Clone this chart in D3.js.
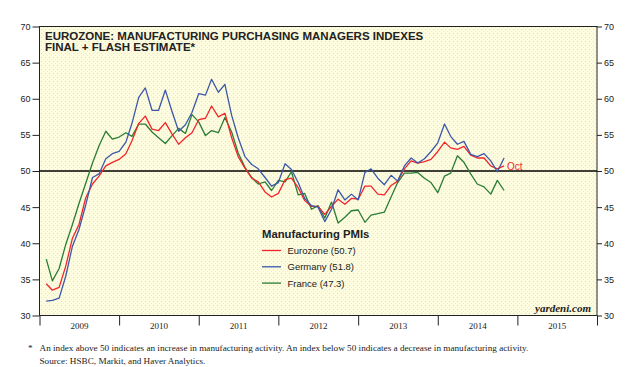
<!DOCTYPE html>
<html>
<head>
<meta charset="utf-8">
<script src="https://cdn.jsdelivr.net/npm/d3@7"></script>
<style>
  body { margin: 0; background: #fff; }
  svg { display: block; }
</style>
</head>
<body>
<svg id="chart" width="638" height="367"></svg>
<script>
// monthly PMI readings, Jan 2009 .. Oct 2014
const firstMonth = new Date(2009, 0, 1);
const eurozone = [
  34.4, 33.5, 33.9, 36.8, 40.7, 42.6, 46.3, 48.2, 49.3, 50.7, 51.2, 51.6,
  52.4, 54.2, 56.6, 57.6, 55.8, 55.6, 56.7, 55.1, 53.7, 54.6, 55.3, 57.1,
  57.3, 59.0, 57.5, 58.0, 54.6, 52.0, 50.4, 49.0, 48.5, 47.1, 46.4, 46.9,
  48.8, 49.0, 47.7, 45.9, 45.1, 45.1, 44.0, 45.1, 46.1, 45.4, 46.2, 46.1,
  47.9, 47.9, 46.8, 46.7, 48.0, 48.6, 50.3, 51.4, 51.1, 51.3, 51.6, 52.7,
  54.0, 53.2, 53.0, 53.4, 52.2, 51.8, 51.8, 50.7, 50.3, 50.7
];
const germany = [
  32.0, 32.1, 32.4, 35.4, 39.6, 41.9, 45.3, 49.1, 49.6, 51.7, 52.4, 52.7,
  54.0, 56.6, 60.2, 61.5, 58.4, 58.4, 61.2, 58.2, 55.5, 56.4, 58.1, 60.7,
  60.5, 62.7, 60.9, 62.0, 57.7, 54.6, 52.0, 50.9, 50.3, 49.1, 47.9, 48.4,
  51.0, 50.2, 48.4, 46.2, 45.2, 45.0, 43.0, 44.7, 47.4, 46.0, 46.8, 46.0,
  49.8, 50.3, 49.0, 48.1, 49.4, 48.6, 50.7, 51.8, 51.1, 51.7, 52.7, 53.9,
  56.5, 54.8, 53.7, 54.1, 52.3, 52.0, 52.4, 51.4, 49.9, 51.8
];
const france = [
  37.8, 34.8, 36.5, 39.8, 42.6, 45.5, 48.3, 51.1, 53.5, 55.5, 54.4, 54.7,
  55.3, 54.8, 56.5, 56.5, 55.4, 54.6, 53.8, 54.9, 55.9, 55.2, 57.8, 56.8,
  54.9, 55.6, 55.3, 57.4, 55.4, 52.5, 50.5, 49.1, 48.2, 48.5, 47.3, 48.7,
  48.5, 49.9, 46.7, 46.9, 44.7, 45.2, 43.5, 45.7, 42.8, 43.6, 44.5, 44.6,
  42.9, 43.9, 44.1, 44.3, 46.4, 48.4, 49.7, 49.7, 49.8, 49.0, 48.4, 47.0,
  49.3, 49.7, 52.1, 51.2, 49.6, 48.2, 47.8, 46.8, 48.7, 47.3
];
const seriesLabels = ['Eurozone (50.7)', 'Germany (51.8)', 'France (47.3)'];
const seriesColors = ['#f0262a', '#3c58aa', '#2a7d34'];
const yTicks = [30, 35, 40, 45, 50, 55, 60, 65, 70];
const years = [2009, 2010, 2011, 2012, 2013, 2014, 2015];
const titleLines = ['EUROZONE: MANUFACTURING PURCHASING MANAGERS INDEXES', 'FINAL + FLASH ESTIMATE*'];
const notes = [
  'An index above 50 indicates an increase in manufacturing activity. An index below 50 indicates a decrease in manufacturing activity.',
  'Source: HSBC, Markit, and Haver Analytics.'
];

const svg = d3.select('#chart');
const plotLeft = 39.5, plotRight = 597, plotTop = 26.5, plotBottom = 315.5;

const x = d3.scaleTime()
  .domain([new Date(2009, 0, 1), new Date(2016, 0, 1)])
  .range([plotLeft, plotRight]);
const y = d3.scaleLinear().domain([30, 70]).range([plotBottom, plotTop]);

// dotted pale yellow plot background
const defs = svg.append('defs');
const pat = defs.append('pattern')
  .attr('id', 'paper').attr('width', 4).attr('height', 4)
  .attr('patternUnits', 'userSpaceOnUse');
pat.append('rect').attr('width', 4).attr('height', 4).attr('fill', '#fdfcde');
pat.append('rect').attr('x', 1).attr('y', 1).attr('width', 1).attr('height', 1).attr('fill', '#e2e3cf');
pat.append('rect').attr('x', 3).attr('y', 3).attr('width', 1).attr('height', 1).attr('fill', '#eeedd4');

svg.append('rect')
  .attr('x', plotLeft).attr('y', plotTop)
  .attr('width', plotRight - plotLeft).attr('height', plotBottom - plotTop)
  .attr('fill', 'url(#paper)');

// axes
const yLeft = svg.append('g')
  .attr('transform', `translate(${plotLeft},0)`)
  .call(d3.axisLeft(y).tickValues(yTicks).tickSize(7).tickPadding(2));
const yRight = svg.append('g')
  .attr('transform', `translate(${plotRight},0)`)
  .call(d3.axisRight(y).tickValues(yTicks).tickSize(5).tickPadding(2));
[yLeft, yRight].forEach(g => {
  g.select('.domain').remove();
  g.selectAll('line').attr('stroke', '#222');
  g.selectAll('text').attr('font-family', 'Liberation Sans, Arial, sans-serif')
    .attr('font-size', 9).attr('fill', '#222');
});

const xTicks = svg.append('g')
  .attr('transform', `translate(0,${plotBottom})`)
  .call(d3.axisBottom(x).tickValues(years.concat([2016]).map(yr => new Date(yr, 0, 1)))
    .tickSize(10).tickFormat(''));
xTicks.select('.domain').remove();
xTicks.selectAll('line').attr('stroke', '#222');

const xLabels = svg.append('g')
  .attr('transform', `translate(0,${plotBottom + 4})`)
  .call(d3.axisBottom(x).tickValues(years.map(yr => new Date(yr, 6, 1)))
    .tickSize(0).tickFormat(d3.timeFormat('%Y')));
xLabels.select('.domain').remove();
xLabels.selectAll('text').attr('font-family', 'Liberation Serif, Times New Roman, serif')
  .attr('font-size', 9).attr('fill', '#222');

// frame
svg.append('rect')
  .attr('x', plotLeft).attr('y', plotTop)
  .attr('width', plotRight - plotLeft).attr('height', plotBottom - plotTop)
  .attr('fill', 'none').attr('stroke', '#222').attr('stroke-width', 1);

// 50 reference line
svg.append('line')
  .attr('x1', plotLeft).attr('x2', plotRight)
  .attr('y1', y(50)).attr('y2', y(50))
  .attr('stroke', '#000').attr('stroke-width', 1.3);

// series, plotted at month end
const monthEnd = i => d3.timeMonth.offset(firstMonth, i + 1);
const line = d3.line()
  .x((d, i) => x(monthEnd(i)))
  .y(d => y(d));

const drawOrder = [[france, 2], [eurozone, 0], [germany, 1]];
drawOrder.forEach(([vals, k]) => {
  svg.append('path')
    .datum(vals)
    .attr('d', line)
    .attr('fill', 'none')
    .attr('stroke', seriesColors[k])
    .attr('stroke-width', 1.3)
    .attr('stroke-linejoin', 'round');
});

// "Oct" marker next to the latest eurozone reading
svg.append('text')
  .attr('x', x(monthEnd(eurozone.length - 1)) + 3)
  .attr('y', y(eurozone[eurozone.length - 1]) + 4)
  .attr('font-family', 'Liberation Sans, Arial, sans-serif')
  .attr('font-size', 10).attr('fill', seriesColors[0])
  .text('Oct');

// title
svg.append('g').selectAll('text')
  .data(titleLines).enter().append('text')
  .attr('x', 45).attr('y', (d, i) => 39.5 + i * 11)
  .attr('font-family', 'Liberation Sans, Arial, sans-serif')
  .attr('font-weight', 'bold').attr('font-size', 11.5)
  .attr('fill', '#222')
  .text(d => d);

// legend
const legend = svg.append('g').attr('transform', 'translate(262,0)');
legend.append('text')
  .attr('x', 0).attr('y', 238)
  .attr('font-family', 'Liberation Sans, Arial, sans-serif')
  .attr('font-weight', 'bold').attr('font-size', 11.3).attr('fill', '#222')
  .text('Manufacturing PMIs');
const item = legend.selectAll('.item')
  .data(seriesLabels).enter().append('g')
  .attr('transform', (d, i) => `translate(0,${250.5 + i * 16.3})`);
item.append('line')
  .attr('x1', 0).attr('x2', 19)
  .attr('stroke', (d, i) => seriesColors[i]).attr('stroke-width', 1.3);
item.append('text')
  .attr('x', 25.5).attr('y', 3.5)
  .attr('font-family', 'Liberation Sans, Arial, sans-serif')
  .attr('font-size', 9.5).attr('fill', '#222')
  .text(d => d);

// watermark
svg.append('text')
  .attr('x', 591).attr('y', 311.5).attr('text-anchor', 'end')
  .attr('font-family', 'Liberation Serif, Times New Roman, serif')
  .attr('font-style', 'italic').attr('font-weight', 'bold')
  .attr('font-size', 11).attr('fill', '#222')
  .text('yardeni.com');

// footnotes
svg.append('text')
  .attr('x', 28).attr('y', 351)
  .attr('font-family', 'Liberation Serif, Times New Roman, serif')
  .attr('font-size', 9.2).attr('fill', '#222').text('*');
svg.append('g').selectAll('text')
  .data(notes).enter().append('text')
  .attr('x', 39.5).attr('y', (d, i) => 351 + i * 12.5)
  .attr('font-family', 'Liberation Serif, Times New Roman, serif')
  .attr('font-size', 9.2).attr('fill', '#222')
  .text(d => d);
</script>
</body>
</html>
